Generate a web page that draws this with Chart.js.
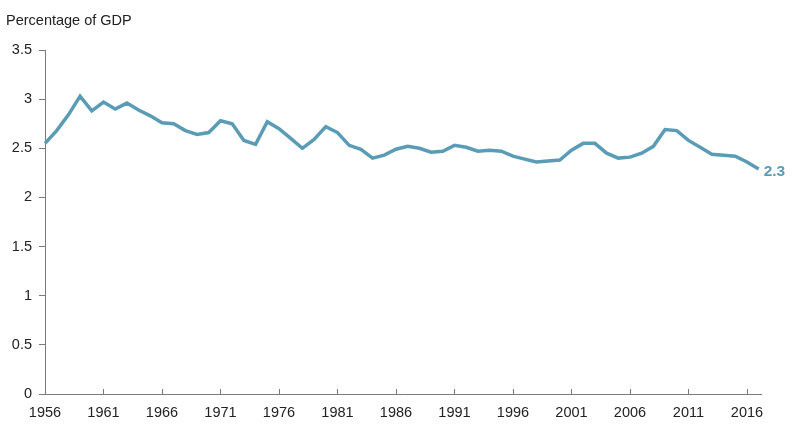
<!DOCTYPE html>
<html>
<head>
<meta charset="utf-8">
<script src="https://cdn.jsdelivr.net/npm/chart.js@4/dist/chart.umd.min.js"></script>
<style>
  html, body { margin: 0; padding: 0; background: #fff; }
  #wrap { width: 794px; height: 427px; }
</style>
</head>
<body>
<div id="wrap"><canvas id="gdp-chart"></canvas></div>
<script>
// Datos: porcentaje del PIB por año
const years = [
  1956, 1957, 1958, 1959, 1960, 1961, 1962, 1963, 1964, 1965,
  1966, 1967, 1968, 1969, 1970, 1971, 1972, 1973, 1974, 1975,
  1976, 1977, 1978, 1979, 1980, 1981, 1982, 1983, 1984, 1985,
  1986, 1987, 1988, 1989, 1990, 1991, 1992, 1993, 1994, 1995,
  1996, 1997, 1998, 1999, 2000, 2001, 2002, 2003, 2004, 2005,
  2006, 2007, 2008, 2009, 2010, 2011, 2012, 2013, 2014, 2015,
  2016, 2017
];
const pctGdp = [
  2.55, 2.68, 2.84, 3.03, 2.88, 2.97, 2.90, 2.96, 2.89, 2.83,
  2.76, 2.75, 2.68, 2.64, 2.66, 2.78, 2.75, 2.58, 2.54, 2.77,
  2.70, 2.60, 2.50, 2.59, 2.72, 2.66, 2.53, 2.49, 2.40, 2.43,
  2.49, 2.52, 2.50, 2.46, 2.47, 2.53, 2.51, 2.47, 2.48, 2.47,
  2.42, 2.39, 2.36, 2.37, 2.38, 2.48, 2.55, 2.55, 2.45, 2.40,
  2.41, 2.45, 2.52, 2.69, 2.68, 2.58, 2.51, 2.44, 2.43, 2.42,
  2.36, 2.29
];
const xTicks = [1956, 1961, 1966, 1971, 1976, 1981, 1986, 1991, 1996, 2001, 2006, 2011, 2016];
const yTicks = [0, 0.5, 1, 1.5, 2, 2.5, 3, 3.5];
const titleText = 'Percentage of GDP';
const endLabel = '2.3';

const lineColor = '#5a9cb6';
const axisColor = '#7a7a7a';
const textColor = '#222222';
const font = 'Liberation Sans, Arial, sans-serif';

// Titulo, marcas del eje x y etiqueta final
const extras = {
  id: 'extras',
  afterDraw(chart) {
    const ctx = chart.ctx;
    const x = chart.scales.x;
    const y = chart.scales.y;
    ctx.save();
    ctx.fillStyle = textColor;
    ctx.font = '14.5px ' + font;
    ctx.textAlign = 'left';
    ctx.textBaseline = 'middle';
    ctx.fillText(titleText, 6, 21);

    ctx.strokeStyle = axisColor;
    ctx.lineWidth = 1;
    const bottom = y.getPixelForValue(0);
    xTicks.forEach(t => {
      const px = Math.round(x.getPixelForValue(t)) + 0.5;
      ctx.beginPath();
      ctx.moveTo(px, bottom);
      ctx.lineTo(px, bottom - 5);
      ctx.stroke();
    });

    const last = years.length - 1;
    ctx.fillStyle = lineColor;
    ctx.font = 'bold 15.5px ' + font;
    ctx.fillText(endLabel, x.getPixelForValue(years[last]) + 5, y.getPixelForValue(pctGdp[last]) + 3);
    ctx.restore();
  }
};

const gdpChart = new Chart(document.getElementById('gdp-chart'), {
  type: 'line',
  data: {
    datasets: [{
      data: years.map((yr, i) => ({ x: yr, y: pctGdp[i] })),
      borderColor: lineColor,
      borderWidth: 3.5,
      pointRadius: 0,
      tension: 0,
      clip: false
    }]
  },
  options: {
    responsive: true,
    maintainAspectRatio: false,
    animation: false,
    layout: { padding: { top: 50, right: 33, bottom: 0, left: 0 } },
    plugins: { legend: { display: false }, tooltip: { enabled: false } },
    scales: {
      x: {
        type: 'linear',
        min: 1956,
        max: 2017.2,
        afterBuildTicks: s => { s.ticks = xTicks.map(v => ({ value: v })); },
        afterFit: s => { s.height = 33; },
        grid: { display: false, drawTicks: false },
        border: { display: true, color: axisColor, width: 1 },
        ticks: {
          color: textColor,
          font: { family: font, size: 14.5 },
          padding: 10,
          maxRotation: 0,
          autoSkip: false,
          callback: v => String(v)
        }
      },
      y: {
        min: 0,
        max: 3.5,
        afterBuildTicks: s => { s.ticks = yTicks.map(v => ({ value: v })); },
        afterFit: s => { s.width = 45; },
        grid: { drawOnChartArea: false, drawTicks: true, tickLength: 6, color: axisColor },
        border: { display: true, color: axisColor, width: 1 },
        ticks: {
          color: textColor,
          font: { family: font, size: 14.5 },
          padding: 7,
          callback: v => String(v)
        }
      }
    }
  },
  plugins: [extras]
});
</script>
</body>
</html>
